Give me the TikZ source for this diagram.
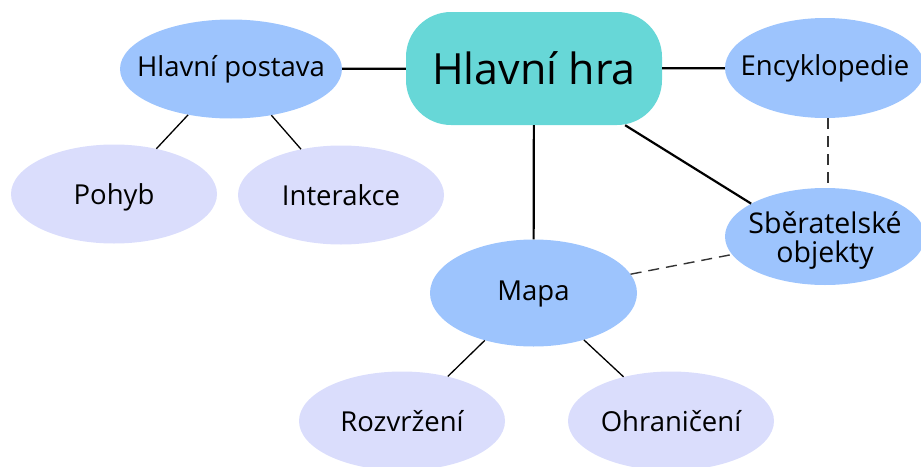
\documentclass[tikz,border=0pt]{standalone}
\usepackage{fontspec}
\setmainfont{Open Sans}
\usetikzlibrary{shapes.geometric}
\definecolor{maincol}{HTML}{67D7D7}
\definecolor{midcol}{HTML}{9DC4FD}
\definecolor{lightcol}{HTML}{DADDFC}
\tikzset{
  mainbox/.style={fill=maincol, rounded corners=45pt, minimum width=256pt, minimum height=113pt, inner sep=0pt, text height=32pt, text depth=0pt, font=\fontsize{43}{48}\selectfont},
  midell/.style={ellipse, fill=midcol, inner xsep=-40pt, inner ysep=-12pt, text height=14pt, text depth=0pt, font=\fontsize{27.5}{30}\selectfont},
  lightell/.style={ellipse, fill=lightcol, inner xsep=-40pt, inner ysep=-12pt, minimum width=206pt, minimum height=99pt, text height=20pt, text depth=0pt, font=\fontsize{27.5}{30}\selectfont},
  plaintext/.style={inner sep=0pt, align=center, font=\fontsize{28.5}{29}\selectfont},
  thickline/.style={line width=2.2pt},
  thinline/.style={line width=1.3pt},
  dashline/.style={line width=1.4pt, dash pattern=on 11pt off 7pt, color=black!80},
}
\begin{document}
\begin{tikzpicture}[x=1pt, y=-1pt]
\useasboundingbox (0,0) rectangle (921,466);
\node[mainbox] (main) at (534,68.5) {Hlavní hra};
\node[midell, minimum width=222pt, minimum height=99pt] (hp) at (231,69) {Hlavní postava};
\node[midell, minimum width=200pt, minimum height=100pt] (enc) at (825,68) {Encyklopedie};
\node[midell, minimum width=200pt, minimum height=97pt] (sber) at (825,236.5) {};
\node[plaintext] (sbertext) at (825,241) {Sběratelské\\objekty};
\node[midell, minimum width=207pt, minimum height=107pt] (mapa) at (533.5,293) {Mapa};
\node[lightell] (pohyb) at (114,194) {Pohyb};
\node[lightell] (inter) at (341,195) {Interakce};
\node[lightell] (rozv) at (402,421) {Rozvržení};
\node[lightell] (ohr) at (671,421) {Ohraničení};
\draw[thickline] (hp) -- (main);
\draw[thickline] (main) -- (enc);
\draw[thickline] (main) -- (mapa);
\draw[thickline] (main) -- (sber.156);
\draw[dashline] (enc.south -| 828,0) -- (sber.north -| 828,0);
\draw[dashline] (mapa) -- (sber);
\draw[thinline] (hp) -- (pohyb);
\draw[thinline] (hp) -- (inter);
\draw[thinline] (mapa) -- (rozv);
\draw[thinline] (mapa) -- (ohr);
\end{tikzpicture}
\end{document}
